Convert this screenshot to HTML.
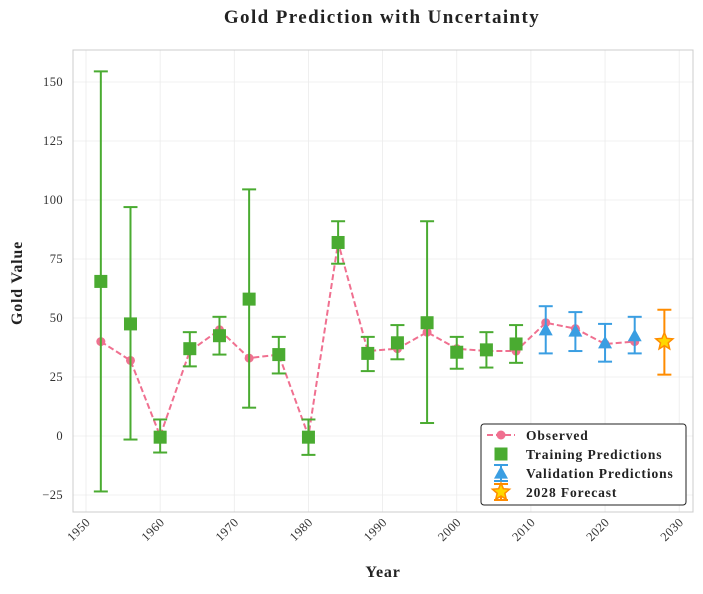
<!DOCTYPE html>
<html><head><meta charset="utf-8"><style>
body{margin:0;background:#fff;}
svg text{font-family:"Liberation Serif",serif;}
</style></head><body>
<svg id="c" width="703" height="589" xmlns="http://www.w3.org/2000/svg"></svg>
<script>
const years=[1952,1956,1960,1964,1968,1972,1976,1980,1984,1988,1992,1996,2000,2004,2008,2012,2016,2020,2024];
const observed=[40,32,0,36,45,33,34.5,0,82,36,37,44,37,36,36,48,45.5,39,40];
const trainYears=[1952,1956,1960,1964,1968,1972,1976,1980,1984,1988,1992,1996,2000,2004,2008];
const trainPred=[65.5,47.5,-0.5,37,42.5,58,34.5,-0.5,82,35,39.5,48,35.5,36.5,39];
const trainHi=[154.5,97,7,44,50.5,104.5,42,7,91,42,47,91,42,44,47];
const trainLo=[-23.5,-1.5,-7,29.5,34.5,12,26.5,-8,73,27.5,32.5,5.5,28.5,29,31];
const valYears=[2012,2016,2020,2024];
const valPred=[45,44.5,39.5,42.5];
const valHi=[55,52.5,47.5,50.5];
const valLo=[35,36,31.5,35];
const fcYear=[2028];const fcPred=[40];const fcHi=[53.5];const fcLo=[26];
const xTicks=[1950,1960,1970,1980,1990,2000,2010,2020,2030];
const yTicks=[-25,0,25,50,75,100,125,150];

const svg=document.getElementById('c');const NS='http://www.w3.org/2000/svg';
const L=73,R=693,T=50,B=512;
const X=v=>86+(v-1950)*7.415;
const Y=v=>436-v*2.36;
function el(t,a,p){const e=document.createElementNS(NS,t);for(const k in a)e.setAttribute(k,a[k]);(p||svg).appendChild(e);return e;}
function txt(s,a){const e=el('text',a);e.textContent=s;return e;}
let g=el('g',{});
xTicks.forEach(t=>el('line',{x1:X(t),x2:X(t),y1:T,y2:B,stroke:'#ebebeb','stroke-width':0.8},g));
yTicks.forEach(t=>el('line',{x1:L,x2:R,y1:Y(t),y2:Y(t),stroke:'#ebebeb','stroke-width':0.8},g));
let f=el('rect',{x:L,y:T,width:R-L,height:B-T,fill:'none',stroke:'#ccc'});
xTicks.forEach(t=>{const e=txt(t,{x:0,y:0,'font-size':12.5,fill:'#333','text-anchor':'end','letter-spacing':0.4,transform:`translate(${X(t)+5},${B+11}) rotate(-45)`});});
yTicks.forEach(t=>{const e=txt(t<0?'\u2212'+(-t):t,{x:L-10,y:Y(t)+4,'font-size':12.5,fill:'#333','text-anchor':'end','letter-spacing':0.4});});
let e=txt('Gold Prediction with Uncertainty',{x:382,y:23,'font-size':19,'font-weight':'bold','text-anchor':'middle',fill:'#222','letter-spacing':1.4});
e=txt('Year',{x:383,y:577,'font-size':16,'font-weight':'bold','text-anchor':'middle',fill:'#222','letter-spacing':0.8});
e=txt('Gold Value',{x:0,y:0,'font-size':16,'font-weight':'bold','text-anchor':'middle',fill:'#222','letter-spacing':0.8,transform:'translate(22,283) rotate(-90)'});
const obsC='#f07090';
e=el('polyline',{points:years.map((y,i)=>X(y)+','+Y(observed[i])).join(' '),fill:'none',stroke:obsC,'stroke-width':2,'stroke-dasharray':'6,3'});
years.forEach((y,i)=>{const c=el('circle',{cx:X(y),cy:Y(observed[i]),r:4.5,fill:obsC});});
function err(xv,hi,lo,col,name){const gg=el('g',{stroke:col,'stroke-width':2});
const x=X(xv);el('line',{x1:x,x2:x,y1:Y(hi),y2:Y(lo)},gg);el('line',{x1:x-7,x2:x+7,y1:Y(hi),y2:Y(hi)},gg);el('line',{x1:x-7,x2:x+7,y1:Y(lo),y2:Y(lo)},gg);}
const gC='#4aab31',bC='#3a9ee2',oC='#ff8c00';
trainYears.forEach((y,i)=>{err(y,trainHi[i],trainLo[i],gC,'training-error-bar');const r=el('rect',{x:X(y)-6.5,y:Y(trainPred[i])-6.5,width:13,height:13,fill:gC});});
function tri(x,y,s,col){return el('polygon',{points:`${x},${y-s} ${x-s},${y+s*0.8} ${x+s},${y+s*0.8}`,fill:col});}
valYears.forEach((y,i)=>{err(y,valHi[i],valLo[i],bC,'validation-error-bar');const p=tri(X(y),Y(valPred[i]),7,bC);});
function star(cx,cy,r,fill,stroke){let pts=[];for(let i=0;i<10;i++){const a=-Math.PI/2+i*Math.PI/5,rr=i%2?r*0.45:r;pts.push((cx+rr*Math.cos(a))+','+(cy+rr*Math.sin(a)));}return el('polygon',{points:pts.join(' '),fill:fill,stroke:stroke,'stroke-width':1.5});}
fcYear.forEach((y,i)=>{err(y,fcHi[i],fcLo[i],oC,'forecast-error-bar');const s=star(X(y),Y(fcPred[i]),9,'#ffd700',oC);});
const lg=el('g',{});
el('rect',{x:481,y:424,width:205,height:81,rx:3,fill:'#fff',stroke:'#222','stroke-width':1},lg);
const ly=[435,454,473,492],labs=['Observed','Training Predictions','Validation Predictions','2028 Forecast'];
el('line',{x1:487,x2:515,y1:ly[0],y2:ly[0],stroke:obsC,'stroke-width':2,'stroke-dasharray':'6,3'},lg);el('circle',{cx:501,cy:ly[0],r:4.5,fill:obsC},lg);
el('rect',{x:494.5,y:ly[1]-6.5,width:13,height:13,fill:gC},lg);
[[2,bC],[3,oC]].forEach(([k,c])=>{const gg=el('g',{stroke:c,'stroke-width':2},lg);el('line',{x1:501,x2:501,y1:ly[k]-8,y2:ly[k]+8},gg);el('line',{x1:494,x2:508,y1:ly[k]-8,y2:ly[k]-8},gg);el('line',{x1:494,x2:508,y1:ly[k]+8,y2:ly[k]+8},gg);});
lg.appendChild(tri(501,ly[2],7,bC));lg.appendChild(star(501,ly[3],9,'#ffd700',oC));
labs.forEach((s,i)=>{const t=txt(s,{x:526,y:ly[i]+5,'font-size':13.5,'font-weight':'bold',fill:'#222','letter-spacing':0.9});lg.appendChild(t);});
</script>
</body></html>
